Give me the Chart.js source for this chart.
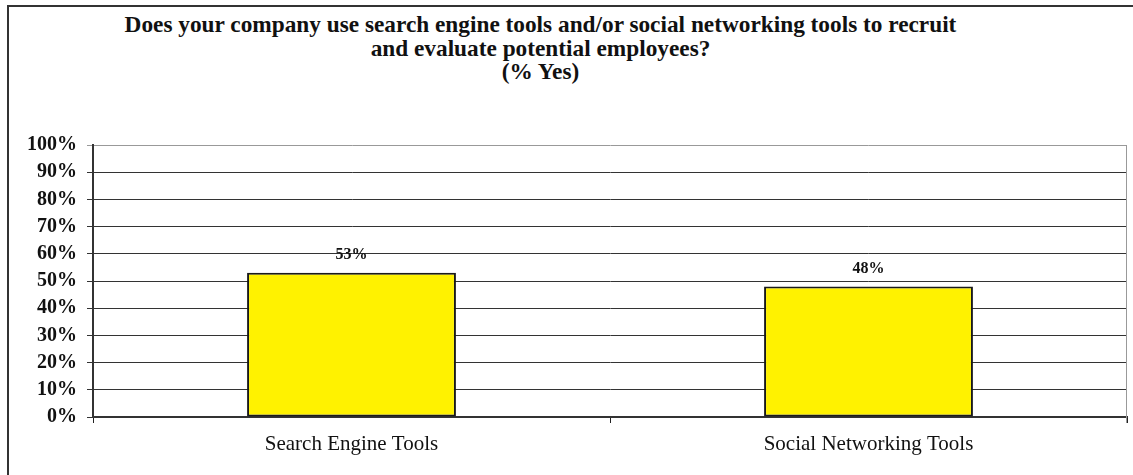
<!DOCTYPE html>
<html lang="en">
<head>
  <meta charset="UTF-8">
  <title>Recruiting tools</title>
  <script src="https://cdn.jsdelivr.net/npm/chart.js"></script>
  <style>
    body { margin: 0; background: #fff; }
    .wrap { position: relative; width: 1133px; height: 475px; overflow: hidden; }
    .frame { position: absolute; left: 7px; top: 5px; width: 1140px; height: 480px;
             border-left: 2px solid #333; border-top: 2px solid #333; }
    .title { position: absolute; left: 0; top: 13px; width: 1081px; text-align: center;
             font: bold 23.3px 'Liberation Serif', 'Times New Roman', serif; line-height: 23.5px; color: #111; }
    canvas { position: absolute; left: 0; top: 0; }
  </style>
</head>
<body>
  <div class="wrap">
    <div class="frame"></div>
    <div class="title">Does your company use search engine tools and/or social networking tools to recruit<br>and evaluate potential employees?<br>(% Yes)</div>
    <canvas id="chart" width="1133" height="475"></canvas>
  </div>

  <script>
    const categories = ['Search Engine Tools', 'Social Networking Tools'];
    const yesPct = [53, 48];
    const yTicks = [0, 10, 20, 30, 40, 50, 60, 70, 80, 90, 100];

    const serif = "'Liberation Serif', 'Times New Roman', serif";

    // value labels above bars + grey right edge of plot
    const extras = {
      id: 'extras',
      afterDatasetsDraw(chart) {
        const { ctx, chartArea } = chart;
        ctx.save();
        ctx.strokeStyle = '#999';
        ctx.lineWidth = 1;
        ctx.beginPath();
        ctx.moveTo(chartArea.right - 0.5, chartArea.top);
        ctx.lineTo(chartArea.right - 0.5, chartArea.bottom + 6);
        ctx.stroke();

        ctx.fillStyle = '#111';
        ctx.font = 'bold 16px ' + serif;
        ctx.textAlign = 'center';
        ctx.textBaseline = 'middle';
        chart.getDatasetMeta(0).data.forEach((bar, i) => {
          ctx.fillText(yesPct[i] + '%', bar.x, bar.y - 18);
        });
        ctx.restore();
      }
    };

    new Chart(document.getElementById('chart'), {
      type: 'bar',
      data: {
        labels: categories,
        datasets: [{
          data: yesPct,
          backgroundColor: '#fff200',
          borderColor: '#1a1a1a',
          borderWidth: 2,
          borderSkipped: false,
          categoryPercentage: 1,
          barPercentage: 0.404
        }]
      },
      options: {
        responsive: false,
        animation: false,
        layout: { padding: { top: 145, right: 6, bottom: 0, left: 0 } },
        plugins: { legend: { display: false }, tooltip: { enabled: false } },
        scales: {
          x: {
            offset: true,
            grid: { offset: true, drawOnChartArea: false, tickLength: 6, color: '#222' },
            border: { color: '#333', width: 2 },
            ticks: { color: '#111', padding: 9, font: { family: serif, size: 21 } },
            afterFit(scale) { scale.height = 58; }
          },
          y: {
            min: 0,
            max: 100,
            afterBuildTicks(scale) { scale.ticks = yTicks.map(v => ({ value: v })); },
            grid: {
              tickLength: 6,
              color: c => (c.tick && c.tick.value === 100) ? '#999' : '#333'
            },
            border: { color: '#333', width: 2 },
            ticks: {
              color: '#111',
              padding: 10,
              font: { family: serif, size: 20, weight: 'bold' },
              callback: v => v + '%'
            },
            afterFit(scale) { scale.width = 93; }
          }
        }
      },
      plugins: [extras]
    });
  </script>
</body>
</html>
